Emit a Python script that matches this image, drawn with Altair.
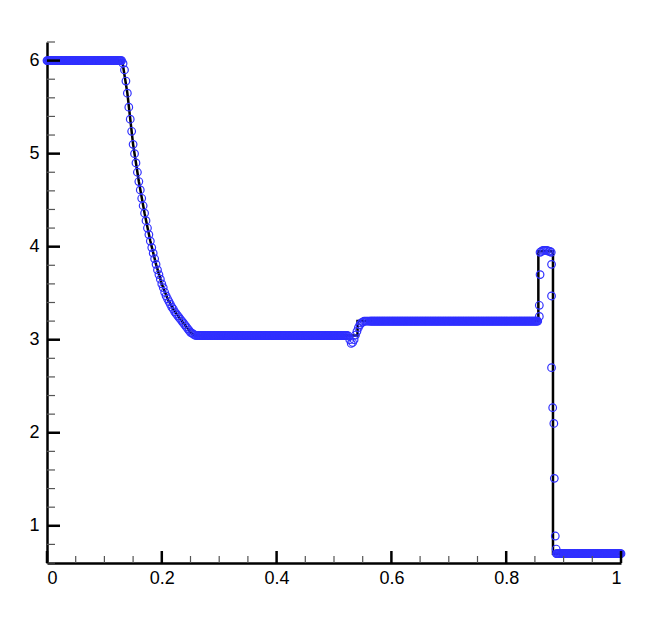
import altair as alt
import pandas as pd

# ---------------- data ----------------
# numerical solution, evenly spaced segments (start x, spacing, values)
LEFT_Y = [6.0] * 105                     # x 0 .. 0.13
RARE_Y = [5.97, 5.90, 5.78, 5.65, 5.50, 5.37, 5.24, 5.10, 5.00, 4.90,
          4.80, 4.70, 4.61, 4.52, 4.44, 4.36, 4.28, 4.20, 4.13, 4.06,
          3.99, 3.93, 3.87, 3.81, 3.75, 3.70, 3.65, 3.60, 3.56, 3.51,
          3.47, 3.44, 3.41, 3.38, 3.35, 3.33, 3.30, 3.28, 3.26, 3.24,
          3.22, 3.20, 3.18, 3.16, 3.14, 3.12, 3.10, 3.08, 3.07, 3.06,
          3.05, 3.045]                   # x 0.1325 .. 0.26
MID1_Y = [3.045] * 209                   # x 0.2625 .. 0.5225
CONTACT_Y = [3.04, 3.00, 2.96, 2.97, 3.00, 3.05, 3.09, 3.13, 3.16, 3.18,
             3.19, 3.20, 3.20, 3.20, 3.20]   # x 0.525 .. 0.56
MID2_Y = [3.2] * 235                     # x 0.5625 .. 0.855
RIGHT_Y = [0.70] * 91                    # x 0.8875 .. 1.0
SEG_START = [0.0, 0.1325, 0.2625, 0.525, 0.5625, 0.8875]
SEG_DX = [0.00125, 0.0025, 0.00125, 0.0025, 0.00125, 0.00125]
SEG_Y = [LEFT_Y, RARE_Y, MID1_Y, CONTACT_Y, MID2_Y, RIGHT_Y]

# points in the shocked region
SHOCK_X = [0.859, 0.8615, 0.864, 0.8665, 0.869, 0.8715, 0.874, 0.8765, 0.8785,
           0.8577, 0.8577, 0.859, 0.879, 0.879, 0.879, 0.881, 0.883, 0.8838,
           0.8855, 0.887]
SHOCK_Y = [3.94, 3.95, 3.96, 3.96, 3.96, 3.96, 3.95, 3.95, 3.94,
           3.25, 3.37, 3.70, 3.81, 3.47, 2.70, 2.27, 2.10, 1.51,
           0.89, 0.75]

# exact solution
EXACT_X = [0.0, 0.131, 0.14, 0.15, 0.16, 0.17, 0.18, 0.19, 0.20, 0.21, 0.22,
           0.23, 0.24, 0.25, 0.257, 0.541, 0.541, 0.856, 0.856, 0.8815,
           0.8815, 1.0]
EXACT_Y = [6.0, 6.0, 5.65, 5.10, 4.70, 4.36, 4.06, 3.81, 3.60, 3.44, 3.33,
           3.24, 3.16, 3.08, 3.045, 3.045, 3.2, 3.2, 3.95, 3.95, 0.70, 0.70]

X_MAJOR = [0, 0.2, 0.4, 0.6, 0.8, 1.0]
X_MINOR = [0.05, 0.1, 0.15, 0.25, 0.3, 0.35, 0.45, 0.5, 0.55, 0.65, 0.7,
           0.75, 0.85, 0.9, 0.95]
Y_MAJOR = [1, 2, 3, 4, 5, 6]
Y_MINOR = [0.6, 0.8, 1.2, 1.4, 1.6, 1.8, 2.2, 2.4, 2.6, 2.8, 3.2, 3.4, 3.6,
           3.8, 4.2, 4.4, 4.6, 4.8, 5.2, 5.4, 5.6, 5.8, 6.2]

# ---------------- build tables ----------------
xs, ys = [], []
for x0, dx, yv in zip(SEG_START, SEG_DX, SEG_Y):
    for i, y in enumerate(yv):
        xs.append(round(x0 + i * dx, 6))
        ys.append(y)
xs += SHOCK_X
ys += SHOCK_Y
num = pd.DataFrame({"x": xs, "rho": ys})
exact = pd.DataFrame({"x": EXACT_X, "rho": EXACT_Y,
                      "order": list(range(len(EXACT_X)))})

W, H = 574, 521
FONT = "Liberation Sans"
xscale = alt.Scale(domain=[0, 1], nice=False, zero=False)
yscale = alt.Scale(domain=[0.6, 6.2], nice=False, zero=False)
xaxis = alt.Axis(values=X_MAJOR, format="~g", ticks=False, grid=False,
                 domainColor="black", domainWidth=2.5, labelFontSize=18,
                 labelColor="black", labelFont=FONT, labelPadding=6,
                 title=None)
yaxis = alt.Axis(values=Y_MAJOR, format="d", ticks=False, grid=False,
                 domainColor="black", domainWidth=2.5, labelFontSize=18,
                 labelColor="black", labelFont=FONT, labelPadding=8,
                 title=None)

line = alt.Chart(exact).mark_line(color="black", strokeWidth=2.5).encode(
    x=alt.X("x:Q", scale=xscale, axis=xaxis),
    y=alt.Y("rho:Q", scale=yscale, axis=yaxis),
    order="order:Q",
)

pts = alt.Chart(num).mark_point(shape="circle", filled=False, color="#3030ff",
                                size=58, strokeWidth=1.2, opacity=1).encode(
    x=alt.X("x:Q", scale=xscale, axis=xaxis),
    y=alt.Y("rho:Q", scale=yscale, axis=yaxis),
)

xmaj = alt.Chart(pd.DataFrame({"x": X_MAJOR})).mark_rule(
    color="black", strokeWidth=2.5).encode(
    x=alt.X("x:Q", scale=xscale, axis=xaxis),
    y=alt.value(H), y2=alt.value(H - 12))
xmin = alt.Chart(pd.DataFrame({"x": X_MINOR})).mark_rule(
    color="#555555", strokeWidth=1.2).encode(
    x=alt.X("x:Q", scale=xscale, axis=xaxis),
    y=alt.value(H), y2=alt.value(H - 7))
ymaj = alt.Chart(pd.DataFrame({"rho": Y_MAJOR})).mark_rule(
    color="black", strokeWidth=2.5).encode(
    y=alt.Y("rho:Q", scale=yscale, axis=yaxis),
    x=alt.value(0), x2=alt.value(13))
ymin = alt.Chart(pd.DataFrame({"rho": Y_MINOR})).mark_rule(
    color="#555555", strokeWidth=1.2).encode(
    y=alt.Y("rho:Q", scale=yscale, axis=yaxis),
    x=alt.value(0), x2=alt.value(8))

chart = alt.layer(line, pts, xmin, ymin, xmaj, ymaj).properties(
    width=W, height=H,
    autosize=alt.AutoSizeParams(type="none"),
    padding={"left": 39, "top": 34, "right": 16, "bottom": 40},
    background="white",
).configure_view(stroke=None)

chart.save("out.html", embed_options={"renderer": "svg", "actions": False})
